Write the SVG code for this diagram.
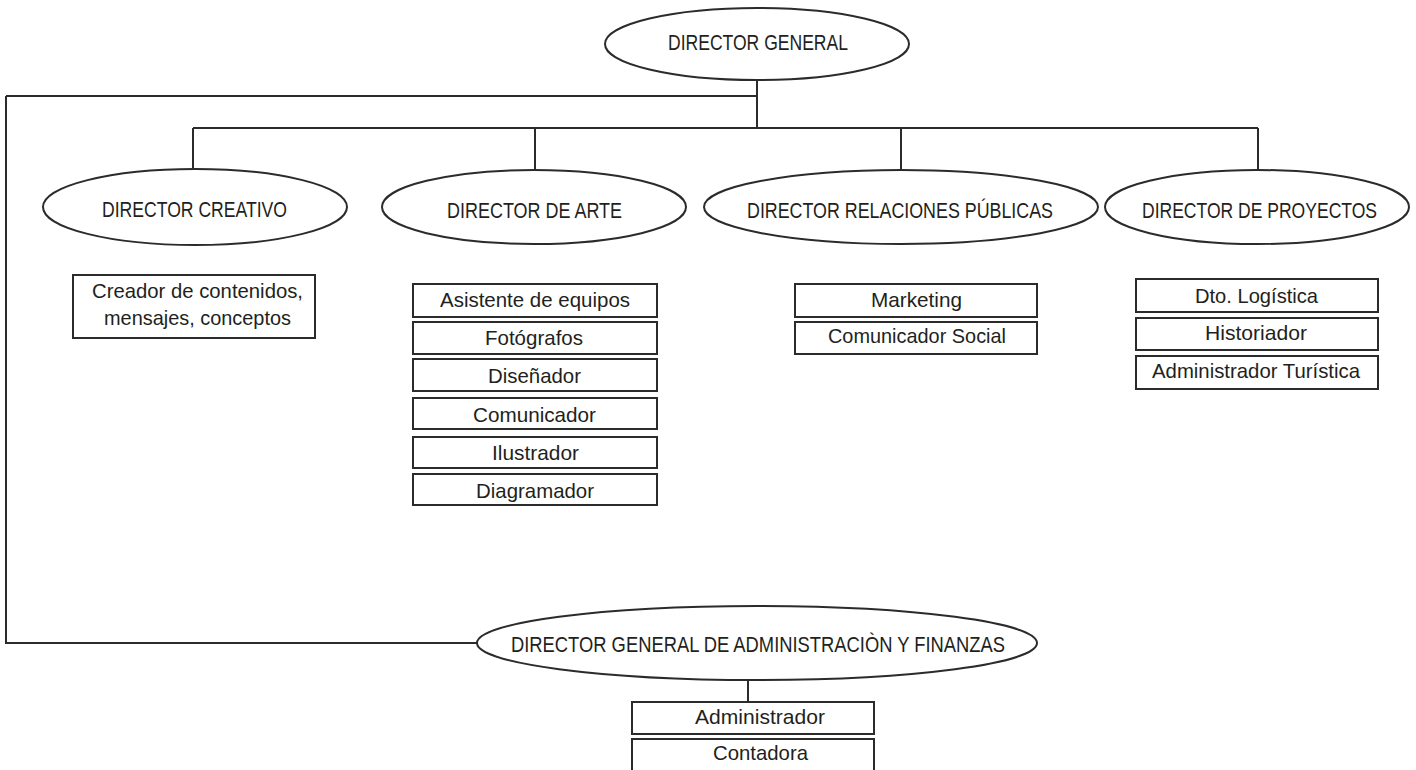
<svg xmlns="http://www.w3.org/2000/svg" width="1416" height="770" viewBox="0 0 1416 770">
<style>
.n{fill:#fff;stroke:#2b2b2b;stroke-width:2}
.c{fill:none;stroke:#2b2b2b;stroke-width:2}
text{font-family:"Liberation Sans",Arial,sans-serif;fill:#231f20;font-size:20px}
.e{font-size:21.5px}
.b{font-size:21px}
</style>
<rect width="1416" height="770" fill="#fff"/>
<g id="connectors">
<path class="c" d="M757 80V128M6 96H757M193 128H1258M193 128V168M535 128V169M901 128V169M1258 128V169M6 96V643H477M748 680V702"/>
</g>
<g id="director-general">
<ellipse class="n" cx="757" cy="44" rx="152" ry="36"/>
<text class="e" x="668" y="50" textLength="180" lengthAdjust="spacingAndGlyphs">DIRECTOR GENERAL</text>
</g>
<g id="director-creativo">
<ellipse class="n" cx="195" cy="207" rx="152" ry="38"/>
<text class="e" x="102" y="217" textLength="185" lengthAdjust="spacingAndGlyphs">DIRECTOR CREATIVO</text>
</g>
<g id="director-arte">
<ellipse class="n" cx="534" cy="207" rx="152" ry="37"/>
<text class="e" x="447" y="218" textLength="175" lengthAdjust="spacingAndGlyphs">DIRECTOR DE ARTE</text>
</g>
<g id="director-relaciones">
<ellipse class="n" cx="901" cy="207" rx="197" ry="37"/>
<text class="e" x="747" y="218" textLength="306" lengthAdjust="spacingAndGlyphs">DIRECTOR RELACIONES PÚBLICAS</text>
</g>
<g id="director-proyectos">
<ellipse class="n" cx="1257" cy="207" rx="152" ry="37"/>
<text class="e" x="1142" y="218" textLength="235" lengthAdjust="spacingAndGlyphs">DIRECTOR DE PROYECTOS</text>
</g>
<g id="director-admin">
<ellipse class="n" cx="757" cy="643" rx="280" ry="37"/>
<text class="e" x="511" y="652" textLength="494" lengthAdjust="spacingAndGlyphs">DIRECTOR GENERAL DE ADMINISTRACIÒN Y FINANZAS</text>
</g>
<g id="creador">
<rect class="n" x="73" y="275" width="242" height="63"/>
<text class="b" x="92" y="298" textLength="211" lengthAdjust="spacingAndGlyphs">Creador de contenidos,</text>
<text class="b" x="104" y="325" textLength="187" lengthAdjust="spacingAndGlyphs">mensajes, conceptos</text>
</g>
<g id="asistente">
<rect class="n" x="413" y="284" width="244" height="33"/>
<text class="b" x="440" y="307" textLength="190" lengthAdjust="spacingAndGlyphs">Asistente de equipos</text>
</g>
<g id="fotografos">
<rect class="n" x="413" y="322" width="244" height="32"/>
<text class="b" x="485" y="345" textLength="98" lengthAdjust="spacingAndGlyphs">Fotógrafos</text>
</g>
<g id="disenador">
<rect class="n" x="413" y="359" width="244" height="32"/>
<text class="b" x="488" y="383" textLength="93" lengthAdjust="spacingAndGlyphs">Diseñador</text>
</g>
<g id="comunicador">
<rect class="n" x="413" y="398" width="244" height="31"/>
<text class="b" x="473" y="422" textLength="123" lengthAdjust="spacingAndGlyphs">Comunicador</text>
</g>
<g id="ilustrador">
<rect class="n" x="413" y="437" width="244" height="31"/>
<text class="b" x="492" y="460" textLength="87" lengthAdjust="spacingAndGlyphs">Ilustrador</text>
</g>
<g id="diagramador">
<rect class="n" x="413" y="474" width="244" height="31"/>
<text class="b" x="476" y="498" textLength="118" lengthAdjust="spacingAndGlyphs">Diagramador</text>
</g>
<g id="marketing">
<rect class="n" x="795" y="284" width="242" height="33"/>
<text class="b" x="871" y="307" textLength="91" lengthAdjust="spacingAndGlyphs">Marketing</text>
</g>
<g id="comunicador-social">
<rect class="n" x="795" y="322" width="242" height="32"/>
<text class="b" x="828" y="343" textLength="178" lengthAdjust="spacingAndGlyphs">Comunicador Social</text>
</g>
<g id="logistica">
<rect class="n" x="1136" y="279" width="242" height="33"/>
<text class="b" x="1195" y="303" textLength="123" lengthAdjust="spacingAndGlyphs">Dto. Logística</text>
</g>
<g id="historiador">
<rect class="n" x="1136" y="318" width="242" height="32"/>
<text class="b" x="1205" y="340" textLength="102" lengthAdjust="spacingAndGlyphs">Historiador</text>
</g>
<g id="admin-turistica">
<rect class="n" x="1136" y="356" width="242" height="33"/>
<text class="b" x="1152" y="378" textLength="208" lengthAdjust="spacingAndGlyphs">Administrador Turística</text>
</g>
<g id="administrador">
<rect class="n" x="632" y="702" width="242" height="32"/>
<text class="b" x="695" y="724" textLength="130" lengthAdjust="spacingAndGlyphs">Administrador</text>
</g>
<g id="contadora">
<rect class="n" x="632" y="739" width="242" height="40"/>
<text class="b" x="713" y="760" textLength="95" lengthAdjust="spacingAndGlyphs">Contadora</text>
</g>
</svg>
